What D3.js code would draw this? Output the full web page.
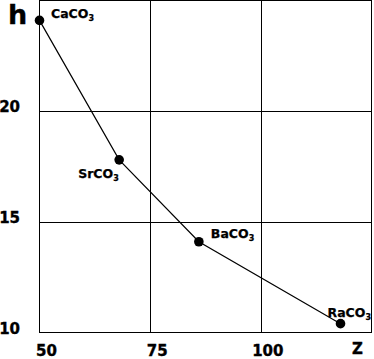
<!DOCTYPE html>
<html>
<head>
<meta charset="utf-8">
<script src="https://cdn.jsdelivr.net/npm/d3@7"></script>
<style>
  body { margin: 0; background: #fff; }
  svg { display: block; }
  text { font-family: "DejaVu Sans", sans-serif; font-weight: bold; fill: #000; stroke: #000; stroke-width: 0.35px; }
</style>
</head>
<body>
<div id="chart"></div>
<script>
// number of electrons (z) vs h
const compounds = ["Ca", "Sr", "Ba", "Ra"];
const zValues = [50, 68, 86, 118];
const hValues = [24.1, 17.8, 14.1, 10.4];
const xTicks = [50, 75, 100];
const yTicks = [10, 15, 20];

const width = 374;
const height = 359;

const svg = d3.select("#chart").append("svg")
    .attr("width", width)
    .attr("height", height);

const x = d3.scaleLinear().domain([50, 125]).range([39.5, 371.5]);
const y = d3.scaleLinear().domain([10, 25]).range([332.5, 0.5]);

const data = compounds.map((c, i) => ({ name: c, z: zValues[i], h: hValues[i] }));

// grid lines through the axis generators
const gridX = svg.append("g")
    .attr("transform", `translate(0,${y.range()[0]})`)
    .call(d3.axisBottom(x).tickValues([75, 100]).tickSize(-(y.range()[0] - y.range()[1])).tickFormat(""));
gridX.select(".domain").remove();
gridX.selectAll("line").attr("stroke", "#000").attr("shape-rendering", "crispEdges");

const gridY = svg.append("g")
    .attr("transform", `translate(${x.range()[0]},0)`)
    .call(d3.axisLeft(y).tickValues([15, 20]).tickSize(-(x.range()[1] - x.range()[0])).tickFormat(""));
gridY.select(".domain").remove();
gridY.selectAll("line").attr("stroke", "#000").attr("shape-rendering", "crispEdges");

// frame
svg.append("rect")
    .attr("x", x.range()[0]).attr("y", y.range()[1])
    .attr("width", x.range()[1] - x.range()[0])
    .attr("height", y.range()[0] - y.range()[1])
    .attr("fill", "none").attr("stroke", "#000")
    .attr("shape-rendering", "crispEdges");

// tick labels
svg.append("g").selectAll("text").data(xTicks).join("text")
    .attr("x", d => x(d) + 7)
    .attr("y", 356)
    .attr("text-anchor", "middle")
    .attr("font-size", "15px")
    .text(d => d);

svg.append("g").selectAll("text").data(yTicks).join("text")
    .attr("x", 20)
    .attr("y", d => y(d) + 1)
    .attr("text-anchor", "end")
    .attr("font-size", "15px")
    .text(d => d);

// axis titles
svg.append("text")
    .attr("x", 8).attr("y", 24)
    .attr("font-family", "'Liberation Sans', Arial, sans-serif")
    .attr("font-size", "27px")
    .text("h");

svg.append("text")
    .attr("x", 352).attr("y", 354)
    .attr("font-size", "15px")
    .text("Z");

// line and points
const line = d3.line().x(d => x(d.z)).y(d => y(d.h));

svg.append("path")
    .datum(data)
    .attr("d", line)
    .attr("fill", "none")
    .attr("stroke", "#000")
    .attr("stroke-width", 1.2);

svg.append("g").selectAll("circle").data(data).join("circle")
    .attr("cx", d => x(d.z))
    .attr("cy", d => y(d.h))
    .attr("r", 4.8)
    .attr("fill", "#000");

// labels next to the points
const labelOffsets = { Ca: [11.5, -2], Sr: [-41, 18], Ba: [12, -4], Ra: [-13, -7] };

const labels = svg.append("g").selectAll("text").data(data).join("text")
    .attr("x", d => x(d.z) + labelOffsets[d.name][0])
    .attr("y", d => y(d.h) + labelOffsets[d.name][1])
    .attr("font-size", "12.5px")
    .style("stroke-width", "0.25px");

labels.append("tspan").text(d => d.name + "CO");
labels.append("tspan").attr("font-size", "8px").attr("dy", 3).text("3");
</script>
</body>
</html>
